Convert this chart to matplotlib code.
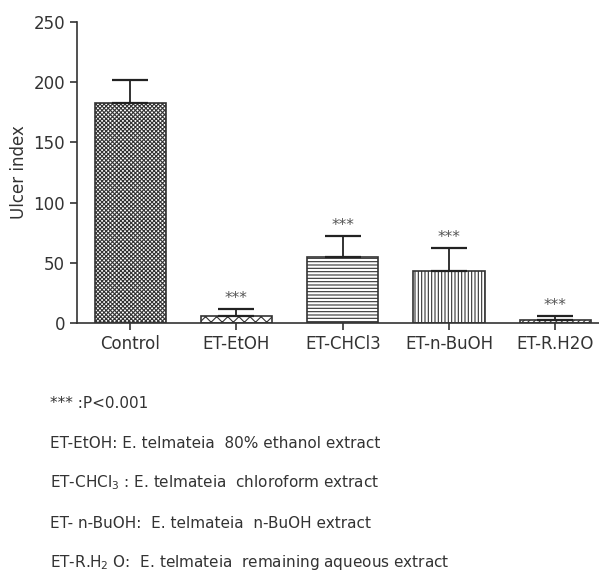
import matplotlib.pyplot as plt

plt.rcParams["font.family"] = ["DejaVu Sans"]
plt.rcParams["mathtext.default"] = "regular"
plt.rcParams["hatch.linewidth"] = 0.8

groups = ["Control", "ET-EtOH", "ET-CHCl3", "ET-n-BuOH", "ET-R.H2O"]
ulcer_index = [182.5, 6, 55, 43.5, 2.5]
sem = [19.5, 6, 17.5, 19, 3.5]
stars = ["", "***", "***", "***", "***"]
hatches = ["xxxxxxxx", "xxx", "-----", "|||||", "//////"]

notes = [
    "*** :P<0.001",
    "ET-EtOH: E. telmateia  80% ethanol extract",
    "ET-CHCl$_3$ : E. telmateia  chloroform extract",
    "ET- n-BuOH:  E. telmateia  n-BuOH extract",
    "ET-R.H$_2$ O:  E. telmateia  remaining aqueous extract",
]

fig = plt.figure(figsize=(5.99, 5.72), dpi=100)
ax = fig.add_axes([0.1285, 0.4353, 0.8715, 0.5262])

x = range(len(groups))
for i in x:
    ax.bar(i, ulcer_index[i], width=0.67, color="white", edgecolor="#333333",
           hatch=hatches[i], linewidth=1.2)
    ax.errorbar(i, ulcer_index[i], yerr=[[0], [sem[i]]], fmt="none",
                ecolor="#222222", elinewidth=1.3, capsize=13, capthick=1.6)
    if stars[i]:
        ax.text(i, ulcer_index[i] + sem[i] + 2, stars[i], ha="center",
                va="bottom", fontsize=11, color="#555555")

ax.set_xlim(-0.5, 4.41)
ax.set_ylim(0, 250)
ax.set_yticks([0, 50, 100, 150, 200, 250])
ax.set_xticks(list(x))
ax.set_xticklabels(groups)
ax.set_ylabel("Ulcer index", fontsize=12, color="#333333")
ax.tick_params(labelsize=12, colors="#333333", length=5, width=1.2)
ax.spines["top"].set_visible(False)
ax.spines["right"].set_visible(False)
ax.spines["left"].set_color("#333333")
ax.spines["bottom"].set_color("#333333")
ax.spines["left"].set_linewidth(1.2)
ax.spines["bottom"].set_linewidth(1.2)

y0 = 403
for note in notes:
    fig.text(50 / 599, 1 - y0 / 572, note, fontsize=11, color="#333333",
             va="center", ha="left")
    y0 += 40

plt.savefig("out.png")
plt.close()
